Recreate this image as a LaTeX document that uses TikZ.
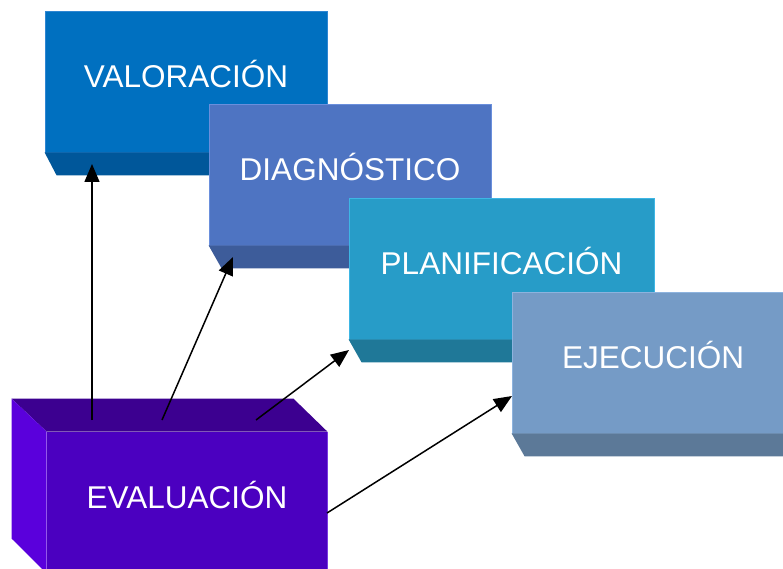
\documentclass[tikz,border=0pt]{standalone}
\usepackage{fontspec}
\setmainfont{Liberation Sans}
\usetikzlibrary{arrows.meta,calc}

\definecolor{valfront}{HTML}{0070C0}
\definecolor{valbevel}{HTML}{00579A}
\definecolor{valedge}{HTML}{2E86D2}
\definecolor{diafront}{HTML}{4E74C2}
\definecolor{diabevel}{HTML}{3D5C9A}
\definecolor{diaedge}{HTML}{6A8FDC}
\definecolor{plafront}{HTML}{279CC8}
\definecolor{plabevel}{HTML}{1F7898}
\definecolor{plaedge}{HTML}{3EB6E4}
\definecolor{ejefront}{HTML}{759BC6}
\definecolor{ejebevel}{HTML}{5C7998}
\definecolor{ejeedge}{HTML}{8DB3DE}
\definecolor{evafront}{HTML}{4B00C0}
\definecolor{evatop}{HTML}{3C0090}
\definecolor{evaside}{HTML}{5A00DC}
\definecolor{evaedge}{HTML}{7A3AE0}

\begin{document}
\begin{tikzpicture}[x=1pt, y=-1pt,
  stepbox/.style = {rectangle, minimum width=282pt, minimum height=141pt, inner sep=0pt,
    line width=0.8pt, text=white, font=\fontsize{31.5}{36}\selectfont,
    text height=12pt, text depth=0pt},
  arr/.style = {-{Triangle[length=18pt,width=15pt]}, line width=1.5pt, black}]
\useasboundingbox (0,0) rectangle (783,569);
\clip (0,0) rectangle (783,569);

% steps
\node[stepbox, fill=valfront, draw=valedge] (1) at (186,81.5) {VALORACIÓN};
\fill[valbevel] (1.south west) -- (1.south east) -- ++(0,23) -- ($(1.south west)+(12,23)$) -- cycle;
\node[stepbox, fill=diafront, draw=diaedge] (2) at (350,174.5) {DIAGNÓSTICO};
\fill[diabevel] (2.south west) -- (2.south east) -- ++(0,23) -- ($(2.south west)+(13,23)$) -- cycle;
\node[stepbox, fill=plafront, draw=plaedge, minimum width=305pt] (3) at (501.5,268.5) {PLANIFICACIÓN};
\fill[plabevel] (3.south west) -- (3.south east) -- ++(0,23) -- ($(3.south west)+(13,23)$) -- cycle;
\node[stepbox, fill=ejefront, draw=ejeedge] (4) at (653,362.5) {EJECUCIÓN};
\fill[ejebevel] (4.south west) -- (4.south east) -- ++(0,23) -- ($(4.south west)+(13,23)$) -- cycle;

% evaluation block
\node[stepbox, fill=evafront, minimum width=280pt] (5) at (187,502.5) {EVALUACIÓN};
\fill[evatop] (5.north west) -- ++(-35,-33) -- ($(5.north east)+(-34,-33)$) -- (5.north east) -- cycle;
\fill[evaside] (5.north west) -- ++(-35,-33) -- ++(0,140) -- (5.south west) -- cycle;
\draw[evaedge, line width=0.8pt] (5.north east) -- (5.south east);

% arrows
\coordinate (a1) at (92,420);
\coordinate (a2) at (162,420);
\coordinate (a3) at (256,420);
\coordinate (a4) at (327,513);
\coordinate (b1) at (92,164);
\coordinate (b2) at (233,257);
\coordinate (b3) at (349,350);
\coordinate (b4) at (512,396);
\draw[arr] (a1) -- (b1);
\draw[arr] (a2) -- (b2);
\draw[arr] (a3) -- (b3);
\draw[arr] (a4) -- (b4);

\end{tikzpicture}
\end{document}
